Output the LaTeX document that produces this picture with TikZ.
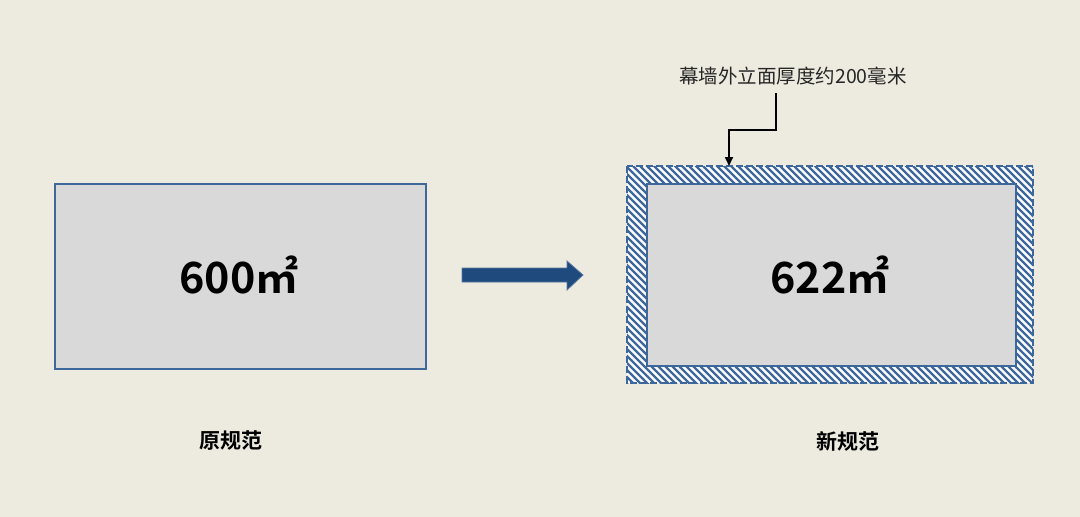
\documentclass[tikz,border=0pt]{standalone}
\usepackage{fontspec}
\setmainfont{Noto Sans CJK SC}
\newfontfamily\cjkb{Noto Sans CJK SC Bold}
\usetikzlibrary{arrows.meta}
\definecolor{bg}{RGB}{237,235,224}
\definecolor{boxgray}{RGB}{217,217,217}
\definecolor{edgeblue}{RGB}{62,104,156}
\definecolor{arrowblue}{RGB}{31,74,126}
\tikzset{
  x=1pt,y=-1pt,
  plainbox/.style={draw=edgeblue,line width=2.8pt,fill=boxgray},
  bigtext/.style={font=\cjkb\fontsize{43}{46}\selectfont,text=black},
  caption/.style={font=\cjkb\fontsize{21}{24}\selectfont,text=black},
  callout/.style={font=\fontsize{19.5}{22}\selectfont,text=black!85},
  leader/.style={draw=black,line width=1.6pt,-{Triangle[length=9pt,width=8pt]}},
  blockarrow/.style={fill=arrowblue,draw=arrowblue!75!white,line width=0.8pt,line join=miter},
}
\begin{document}
\begin{tikzpicture}
\fill[bg] (0,0) rectangle (1080,517);
\useasboundingbox (0,0) rectangle (1080,517);
% left box
\draw[plainbox] (55,184) rectangle (426,369);
\node[bigtext] (a) at (239,275) {600㎡};
% block arrow
\draw[blockarrow] (462,268) -- (567,268) -- (567,261) -- (583,275) -- (567,290) -- (567,282) -- (462,282) -- cycle;
% hatched frame
\begin{scope}
  \clip (627,166) rectangle (1033,383);
  \fill[white] (627,166) rectangle (1033,383);
  \foreach \k in {-252,-245,...,420} {
    \draw[edgeblue,line width=2.3pt] (627+\k,160) -- (627+\k+230,390);
  }
\end{scope}
\draw[edgeblue,line width=2.4pt,dash pattern=on 7pt off 3pt] (627,166) rectangle (1033,383);
\draw[plainbox] (647,184) rectangle (1016,366);
\node[bigtext] (b) at (830,275) {622㎡};
% callout
\node[callout] (c) at (793,76) {幕墙外立面厚度约200毫米};
\coordinate (s) at (776,93);
\coordinate (t) at (729,166);
\draw[leader] (s) -- (776,130) -- (729,130) -- (t);
% captions
\node[caption] (l1) at (231,441) {原规范};
\node[caption] (l2) at (848,441) {新规范};
\end{tikzpicture}
\end{document}
